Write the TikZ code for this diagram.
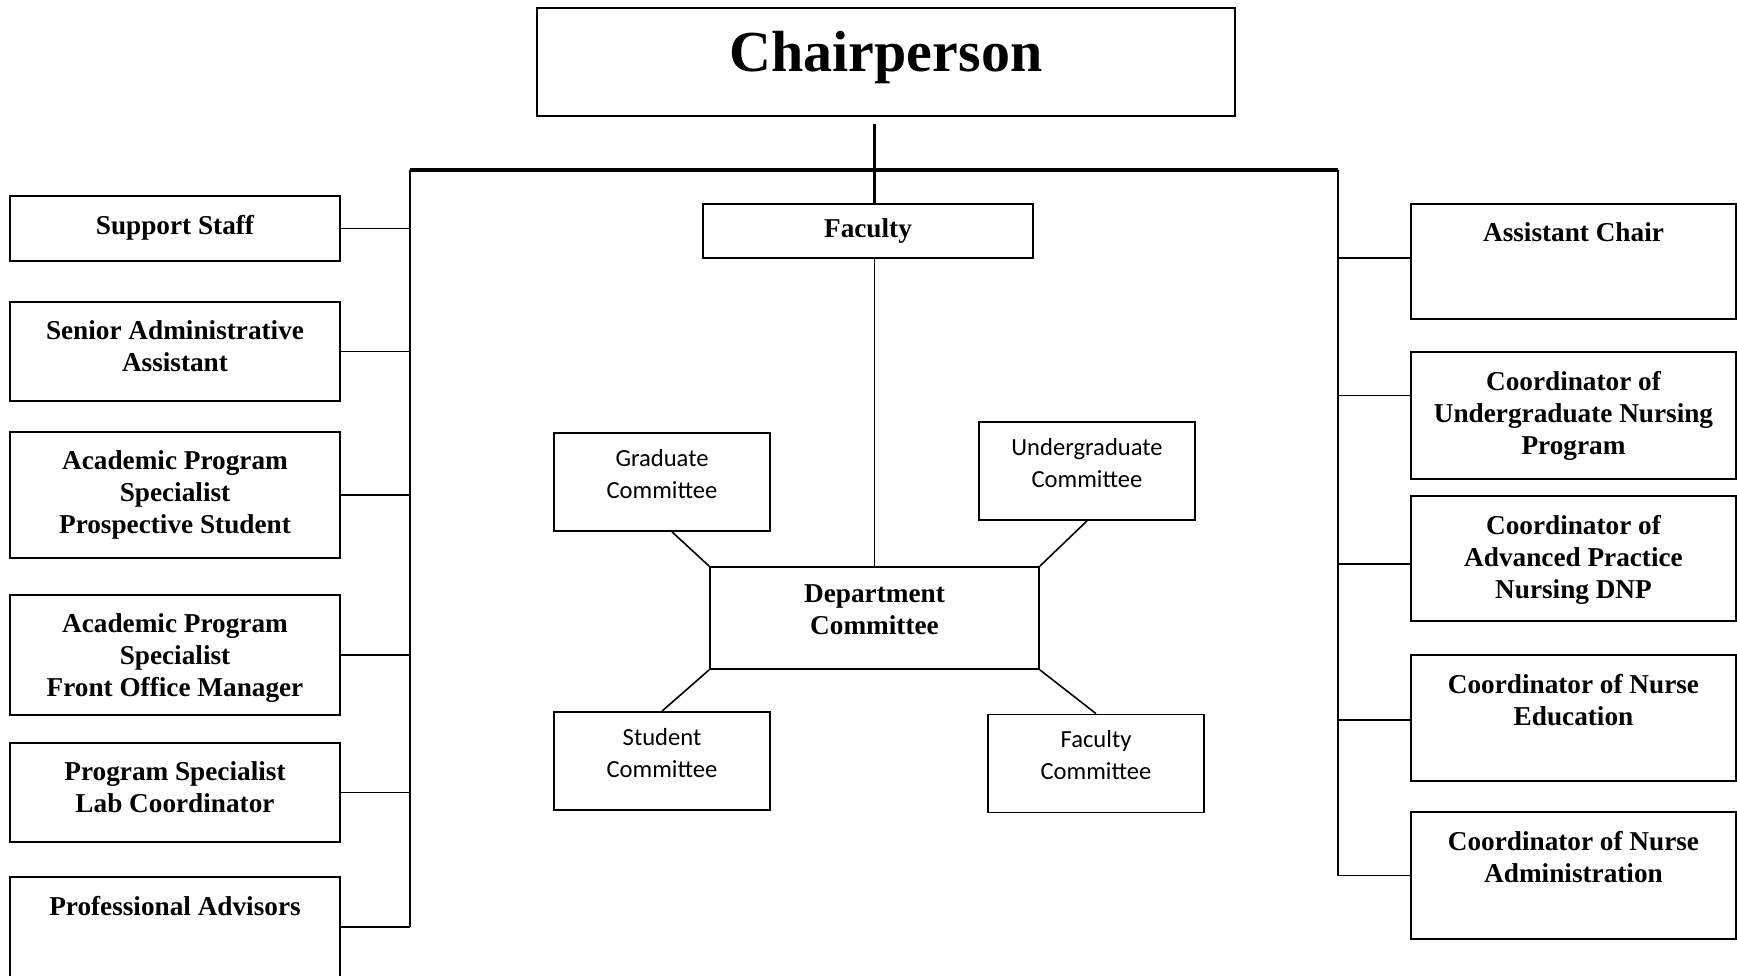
\documentclass[tikz,border=0pt]{standalone}
\usepackage{fontspec}
\setmainfont{Liberation Serif}
\newfontfamily\carlito{Carlito}
\usetikzlibrary{positioning}
\tikzset{
  box/.style={draw,line width=1pt,inner sep=0pt},
  btxt/.style={font=\bfseries\fontsize{15.5}{18.2}\selectfont,align=center,inner sep=0pt,anchor=north},
  ctxt/.style={font=\carlito\fontsize{14}{18.2}\selectfont,align=center,inner sep=0pt,anchor=north},
  conn/.style={line width=0.9pt},
  bus/.style={line width=2.4pt}
}
\begin{document}
\begin{tikzpicture}
\useasboundingbox(0,0)rectangle(34.74,-19.52);
% head of the chart
\node[box,minimum width=13.96cm,minimum height=2.16cm](chair)at(17.72,-1.24){};
\node[font=\bfseries\fontsize{33}{38}\selectfont,anchor=base,inner sep=0pt](chairtxt)at([yshift=-1.29cm]chair.north){Chairperson};
\coordinate(lv)at(8.2,-3.4);
\coordinate(rv)at(26.76,-3.4);
% staff on the left
\foreach \n/\y/\h/\t in {ss/-4.57/1.30/{Support Staff},
  saa/-7.03/1.98/{Senior Administrative\\Assistant},
  aps/-9.90/2.52/{Academic Program\\Specialist\\Prospective Student},
  apf/-13.10/2.40/{Academic Program\\Specialist\\Front Office Manager},
  psl/-15.85/1.98/{Program Specialist\\Lab Coordinator},
  pa/-18.54/2.00/{Professional Advisors}}{
\node[box,minimum width=6.6cm,minimum height=\h cm](\n)at(3.5,\y){};
\node[btxt,below=0.39cm of \n.north](\n txt){\t};
\draw[conn](\n.east)--(\n.east-|lv);
}
% coordinators on the right
\foreach \n/\y/\h/\t in {ac/-5.23/2.30/{Assistant Chair},
  cun/-8.31/2.54/{Coordinator of\\Undergraduate Nursing\\Program},
  cap/-11.17/2.50/{Coordinator of\\Advanced Practice\\Nursing DNP},
  cne/-14.36/2.52/{Coordinator of Nurse\\Education},
  cna/-17.51/2.54/{Coordinator of Nurse\\Administration}}{
\node[box,minimum width=6.5cm,minimum height=\h cm](\n)at(31.47,\y){};
\node[btxt,below=0.39cm of \n.north](\n txt){\t};
}
\foreach \n/\s in {ac/0.07,cun/0.4,cap/-0.11,cne/-0.04,cna/0}
\draw[conn]([yshift=\s cm]\n.west)--([yshift=\s cm]\n.west-|rv);
% faculty and committees
\node[box,minimum width=6.6cm,minimum height=1.08cm](fac)at(17.36,-4.62){};
\node[btxt,anchor=center](factxt)at(fac){Faculty};
\node[box,minimum width=6.58cm,minimum height=2.04cm](dept)at(17.49,-12.36){};
\node[btxt,below=0.37cm of dept.north](depttxt){Department\\Committee};
\foreach \n/\x/\y/\t in {grad/13.24/-9.64/{Graduate\\Committee},
  ugrad/21.74/-9.42/{Undergraduate\\Committee},
  stud/13.24/-15.22/{Student\\Committee},
  facc/21.92/-15.27/{Faculty\\Committee}}{
\node[box,minimum width=4.32cm,minimum height=1.96cm](\n)at(\x,\y){};
\node[ctxt,below=0.33cm of \n.north](\n txt){\t};
}
% lines
\draw[bus](lv)--(rv);
\draw[conn](lv)--(lv|-pa.east);
\draw[conn](rv)--(rv|-cna.west);
\draw[line width=2pt,shorten <=0.14cm](chair.south-|dept.north)--(fac.north-|dept.north);
\draw[conn](fac.south-|dept.north)--(dept.north);
\draw[conn]([xshift=0.2cm]grad.south)--(dept.north west);
\draw[conn](ugrad.south)--(dept.north east);
\draw[conn](dept.south west)--(stud.north);
\draw[conn](dept.south east)--(facc.north);
\end{tikzpicture}
\end{document}
